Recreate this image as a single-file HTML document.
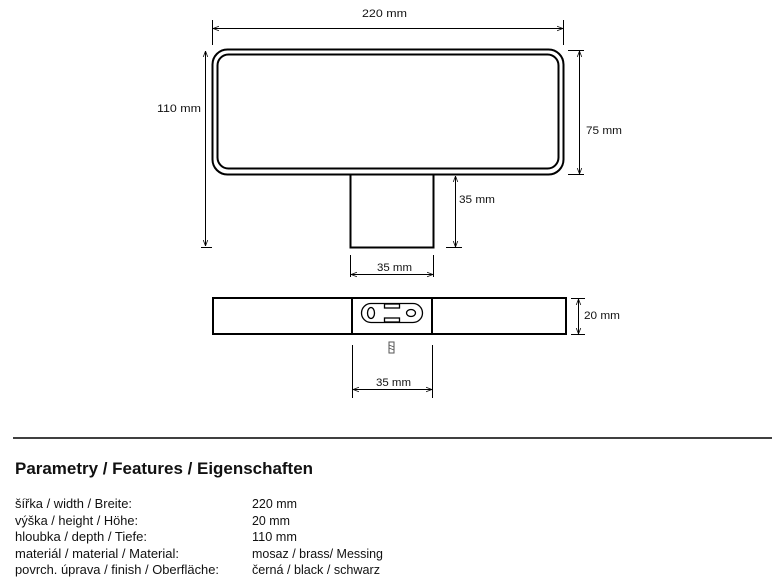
<!DOCTYPE html>
<html><head><meta charset="utf-8"><style>
html,body{margin:0;padding:0;background:#fff;width:779px;height:585px;overflow:hidden}
svg{display:block}
text{font-family:"Liberation Sans",sans-serif;fill:#111}
</style></head><body>
<svg width="779" height="585" viewBox="0 0 779 585" xmlns="http://www.w3.org/2000/svg">
<defs>
<marker id="a" viewBox="0 0 8 8" refX="8" refY="4" markerWidth="6" markerHeight="6" orient="auto-start-reverse"><path d="M0,1 L8,4 L0,7" fill="none" stroke="#000" stroke-width="1"/></marker>
</defs>
<g stroke="#000" fill="none">
<!-- top view -->
<rect x="212.5" y="49.5" width="351" height="125" rx="15" stroke-width="2"/>
<rect x="217.5" y="54.5" width="341" height="114" rx="11" stroke-width="2"/>
<rect x="350.5" y="174.5" width="83" height="73" stroke-width="2"/>
<!-- dims -->
<line x1="212.5" y1="20" x2="212.5" y2="45" stroke-width="1"/>
<line x1="563.5" y1="20" x2="563.5" y2="45" stroke-width="1"/>
<line x1="213" y1="28.5" x2="563" y2="28.5" stroke-width="1" marker-start="url(#a)" marker-end="url(#a)"/>
<line x1="205.5" y1="51" x2="205.5" y2="246" stroke-width="1" marker-start="url(#a)" marker-end="url(#a)"/>
<line x1="201" y1="247.5" x2="212" y2="247.5" stroke-width="1"/>
<line x1="568" y1="50.5" x2="584" y2="50.5" stroke-width="1"/>
<line x1="568" y1="174.5" x2="584" y2="174.5" stroke-width="1"/>
<line x1="579.5" y1="51" x2="579.5" y2="174" stroke-width="1" marker-start="url(#a)" marker-end="url(#a)"/>
<line x1="455.5" y1="176" x2="455.5" y2="247" stroke-width="1" marker-start="url(#a)" marker-end="url(#a)"/>
<line x1="446" y1="247.5" x2="462" y2="247.5" stroke-width="1"/>
<line x1="350.5" y1="255" x2="350.5" y2="277" stroke-width="1"/>
<line x1="433.5" y1="255" x2="433.5" y2="277" stroke-width="1"/>
<line x1="351" y1="274.5" x2="433" y2="274.5" stroke-width="1" marker-start="url(#a)" marker-end="url(#a)"/>
<!-- side view -->
<rect x="213" y="298" width="353" height="36" stroke-width="2"/>
<line x1="352" y1="298" x2="352" y2="334" stroke-width="2"/>
<line x1="432" y1="298" x2="432" y2="334" stroke-width="2"/>
<rect x="361.5" y="303.5" width="61" height="19" rx="9.5" stroke-width="1.3"/>
<ellipse cx="371" cy="313" rx="3.5" ry="5.5" stroke-width="1.3"/>
<ellipse cx="411" cy="313" rx="4.5" ry="3.5" stroke-width="1.3"/>
<rect x="384.5" y="304" width="15" height="4" fill="#fff" stroke-width="1.3"/>
<rect x="384.5" y="318" width="15" height="4" fill="#fff" stroke-width="1.3"/>
<rect x="389" y="342" width="5" height="11" stroke-width="1" stroke="#555"/>
<line x1="389" y1="345" x2="394" y2="347" stroke-width="0.8" stroke="#555"/>
<line x1="389" y1="348" x2="394" y2="350" stroke-width="0.8" stroke="#555"/>
<line x1="571" y1="298.5" x2="585" y2="298.5" stroke-width="1"/>
<line x1="571" y1="334.5" x2="585" y2="334.5" stroke-width="1"/>
<line x1="578.5" y1="299" x2="578.5" y2="334" stroke-width="1" marker-start="url(#a)" marker-end="url(#a)"/>
<line x1="352.5" y1="345" x2="352.5" y2="398" stroke-width="1"/>
<line x1="432.5" y1="345" x2="432.5" y2="398" stroke-width="1"/>
<line x1="353" y1="389.5" x2="432" y2="389.5" stroke-width="1" marker-start="url(#a)" marker-end="url(#a)"/>
<line x1="13" y1="438" x2="772" y2="438" stroke-width="1.5"/>
</g>
<g font-size="11">
<text x="362" y="17" textLength="45" lengthAdjust="spacingAndGlyphs">220 mm</text>
<text x="157" y="112" textLength="44" lengthAdjust="spacingAndGlyphs">110 mm</text>
<text x="586" y="134" textLength="36" lengthAdjust="spacingAndGlyphs">75 mm</text>
<text x="459" y="203" textLength="36" lengthAdjust="spacingAndGlyphs">35 mm</text>
<text x="377" y="271" textLength="35" lengthAdjust="spacingAndGlyphs">35 mm</text>
<text x="584" y="319" textLength="36" lengthAdjust="spacingAndGlyphs">20 mm</text>
<text x="376" y="386" textLength="35" lengthAdjust="spacingAndGlyphs">35 mm</text>
</g>
<text x="15" y="474" font-size="17" font-weight="bold" textLength="298" lengthAdjust="spacingAndGlyphs">Parametry / Features / Eigenschaften</text>
<g font-size="13">
<text x="15" y="508" textLength="117" lengthAdjust="spacingAndGlyphs">šířka / width / Breite:</text>
<text x="15" y="525" textLength="123" lengthAdjust="spacingAndGlyphs">výška / height / Höhe:</text>
<text x="15" y="541" textLength="132" lengthAdjust="spacingAndGlyphs">hloubka / depth / Tiefe:</text>
<text x="15" y="558" textLength="164" lengthAdjust="spacingAndGlyphs">materiál / material / Material:</text>
<text x="15" y="574" textLength="204" lengthAdjust="spacingAndGlyphs">povrch. úprava / finish / Oberfläche:</text>
<text x="252" y="508" textLength="45" lengthAdjust="spacingAndGlyphs">220 mm</text>
<text x="252" y="525" textLength="38" lengthAdjust="spacingAndGlyphs">20 mm</text>
<text x="252" y="541" textLength="45" lengthAdjust="spacingAndGlyphs">110 mm</text>
<text x="252" y="558" textLength="131" lengthAdjust="spacingAndGlyphs">mosaz / brass/ Messing</text>
<text x="252" y="574" textLength="128" lengthAdjust="spacingAndGlyphs">černá / black / schwarz</text>
</g>
</svg>
</body></html>
